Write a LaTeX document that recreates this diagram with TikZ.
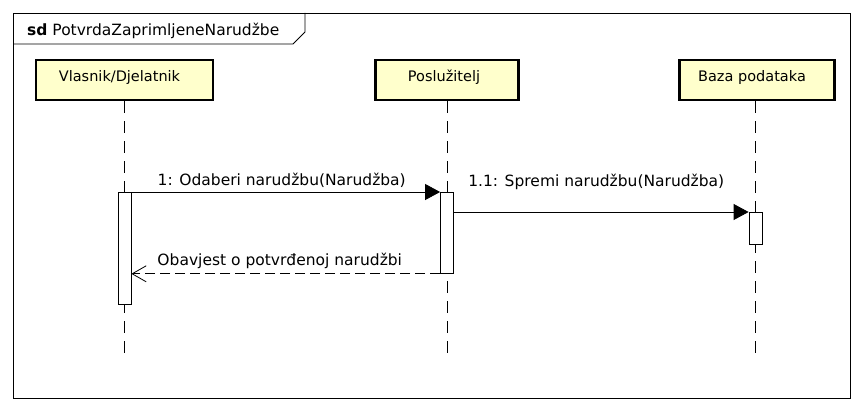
\documentclass[tikz,border=0pt]{standalone}
\usepackage{fontspec}
\setmainfont{DejaVu Sans}
\usetikzlibrary{arrows.meta}

\begin{document}
\begin{tikzpicture}[x=1pt,y=-1pt,font=\fontsize{14.5}{17}\selectfont,
  head/.style={draw,line width=2.6pt,fill=headfill,minimum height=40pt,inner sep=0pt,text depth=9pt},
  act/.style={draw,fill=white,line width=0.8pt,minimum width=13pt,inner sep=0pt},
  lifeline/.style={line width=0.8pt,dash pattern=on 12pt off 8pt},
  msglabel/.style={font=\fontsize{15.5}{18}\selectfont},
  msg/.style={line width=0.8pt,-{Triangle[length=15pt,width=16pt]}},
  reply/.style={line width=0.8pt,dash pattern=on 10pt off 5pt,-{Straight Barb[length=14pt,width=16pt,line width=0.8pt]}}]
 \definecolor{headfill}{RGB}{255,255,204}
 \useasboundingbox (0,0) rectangle (864,412);
 \draw[line width=0.8pt] (13,13) rectangle (850,398);
 \draw[line width=0.8pt] (13,44) -- (293,44) -- (305,32) -- (305,13);
 \node[msglabel,anchor=west,inner sep=0pt] (title) at (27,31) {\textbf{sd} PotvrdaZaprimljeneNarudžbe};
 \node[head,minimum width=177pt] (vlasnik) at (124.5,80) {Vlasnik/Djelatnik\hspace*{10pt}};
 \node[head,minimum width=143pt] (posluzitelj) at (447,80) {Poslužitelj\hspace*{6pt}};
 \node[head,minimum width=155pt] (baza) at (757,80) {Baza podataka\hspace*{10pt}};
 \coordinate (vEnd) at (124.5,355);
 \coordinate (pEnd) at (447,355);
 \coordinate (bEnd) at (755.5,355);
 \draw[lifeline] (vlasnik.south -| vEnd) -- (vEnd);
 \draw[lifeline] (posluzitelj.south -| pEnd) -- (pEnd);
 \draw[lifeline] (baza.south -| bEnd) -- (bEnd);
 \node[act,minimum height=112pt,anchor=north] (actV) at (124.5,192) {};
 \node[act,minimum height=81pt,anchor=north] (actP) at (447,192) {};
 \node[act,minimum height=32pt,anchor=north] (actB) at (755.5,212) {};
 \draw[msg] (actV.north east) -- node[msglabel,above=1pt,xshift=-4pt] {1: Odaberi narudžbu(Narudžba)} (actP.north west);
 \draw[msg] (actP.east |- actB.north) -- node[msglabel,above=19pt,xshift=-5pt] {1.1: Spremi narudžbu(Narudžba)} (actB.north west);
 \draw[reply] (actP.south west) -- node[msglabel,above=1pt,xshift=-6pt] {Obavjest o potvrđenoj narudžbi} (actV.east |- actP.south);
\end{tikzpicture}
\end{document}
